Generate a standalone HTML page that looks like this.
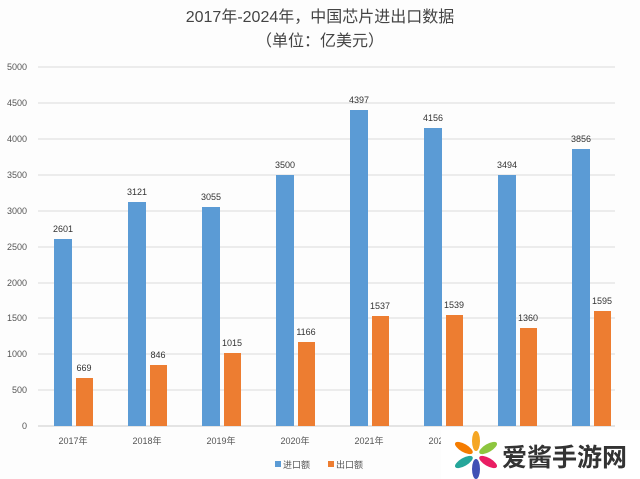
<!DOCTYPE html><html><head><meta charset="utf-8"><style>body{margin:0;background:#fff}svg{display:block}</style></head><body>
<svg width="640" height="479" viewBox="0 0 640 479" xmlns="http://www.w3.org/2000/svg" font-family="Liberation Sans, Noto Sans CJK SC, sans-serif">
<rect width="640" height="479" fill="#fdfdfd"/>
<text x="320" y="22" text-anchor="middle" font-size="16" fill="#444">2017年-2024年，中国芯片进出口数据</text>
<text x="320" y="46" text-anchor="middle" font-size="16" fill="#444">（单位：亿美元）</text>
<g stroke="#dcdcdc" stroke-width="1">
<line x1="38" x2="615" y1="67" y2="67"/><line x1="38" x2="615" y1="103" y2="103"/><line x1="38" x2="615" y1="139" y2="139"/><line x1="38" x2="615" y1="175" y2="175"/><line x1="38" x2="615" y1="211" y2="211"/><line x1="38" x2="615" y1="247" y2="247"/><line x1="38" x2="615" y1="283" y2="283"/><line x1="38" x2="615" y1="318" y2="318"/><line x1="38" x2="615" y1="354" y2="354"/><line x1="38" x2="615" y1="390" y2="390"/>
<line x1="38" x2="615" y1="426" y2="426" stroke="#ccc"/></g>
<g font-size="9" fill="#555" text-anchor="end">
<text x="27" y="70">5000</text><text x="27" y="106">4500</text><text x="27" y="142">4000</text><text x="27" y="178">3500</text><text x="27" y="214">3000</text><text x="27" y="250">2500</text><text x="27" y="286">2000</text><text x="27" y="321">1500</text><text x="27" y="357">1000</text><text x="27" y="393">500</text><text x="27" y="429">0</text></g>
<g fill="#5b9bd5">
<rect x="54" y="239" width="18" height="187"/><rect x="128" y="202" width="18" height="224"/><rect x="202" y="207" width="18" height="219"/><rect x="276" y="175" width="18" height="251"/><rect x="350" y="110" width="18" height="316"/><rect x="424" y="128" width="18" height="298"/><rect x="498" y="175" width="18" height="251"/><rect x="572" y="149" width="18" height="277"/></g>
<g fill="#ed7d31">
<rect x="76" y="378" width="17" height="48"/><rect x="150" y="365" width="17" height="61"/><rect x="224" y="353" width="17" height="73"/><rect x="298" y="342" width="17" height="84"/><rect x="372" y="316" width="17" height="110"/><rect x="446" y="315" width="17" height="111"/><rect x="520" y="328" width="17" height="98"/><rect x="594" y="311" width="17" height="115"/></g>
<g font-size="9" fill="#333" text-anchor="middle">
<text x="63" y="232">2601</text><text x="137" y="195">3121</text><text x="211" y="200">3055</text><text x="285" y="168">3500</text><text x="359" y="103">4397</text><text x="433" y="121">4156</text><text x="507" y="168">3494</text><text x="581" y="142">3856</text>
<text x="84" y="371">669</text><text x="158" y="358">846</text><text x="232" y="346">1015</text><text x="306" y="335">1166</text><text x="380" y="309">1537</text><text x="454" y="308">1539</text><text x="528" y="321">1360</text><text x="602" y="304">1595</text></g>
<g font-size="9" fill="#555" text-anchor="middle">
<text x="73" y="444">2017年</text><text x="147" y="444">2018年</text><text x="221" y="444">2019年</text><text x="295" y="444">2020年</text><text x="369" y="444">2021年</text><text x="443" y="444">2022年</text><text x="517" y="444">2023年</text><text x="591" y="444">2024年</text></g>
<rect x="275" y="461" width="6" height="6" fill="#5b9bd5"/><text x="283" y="468" font-size="9" fill="#555">进口额</text>
<rect x="328" y="461" width="6" height="6" fill="#ed7d31"/><text x="336" y="468" font-size="9" fill="#555">出口额</text>
<rect x="441" y="430" width="199" height="49" fill="#fff"/>
<g transform="translate(476,455)">
<ellipse cx="0" cy="-14" rx="4" ry="10" fill="#f5a623"/>
<ellipse cx="0" cy="-14" rx="4" ry="10" fill="#8dc63f" transform="rotate(60)"/>
<ellipse cx="0" cy="-14" rx="4" ry="10" fill="#e91e63" transform="rotate(120)"/>
<ellipse cx="0" cy="-14" rx="4" ry="10" fill="#3f51b5" transform="rotate(180)"/>
<ellipse cx="0" cy="-14" rx="4" ry="10" fill="#26a69a" transform="rotate(240)"/>
<ellipse cx="0" cy="-14" rx="4" ry="10" fill="#f57c00" transform="rotate(300)"/>
</g>
<text x="502" y="466" font-size="25" font-weight="bold" fill="#333">爱酱手游网</text>
</svg></body></html>
